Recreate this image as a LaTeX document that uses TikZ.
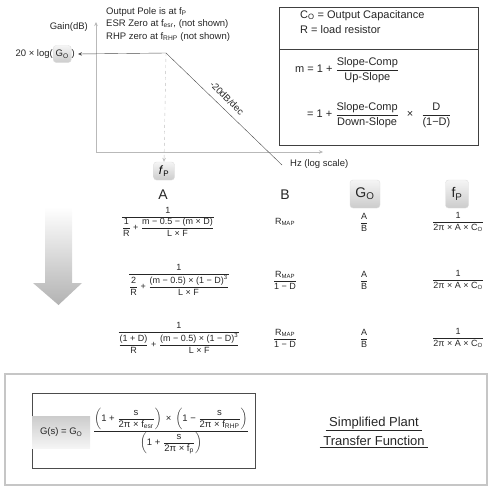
\documentclass[tikz,border=0pt]{standalone}
\usepackage{amsmath}
\usepackage{fontspec}
\setmainfont{Liberation Sans}
\usepackage{xcolor}
\usepackage{tikz}
\usetikzlibrary{arrows.meta,positioning}
\newcommand{\lsub}[1]{\textsubscript{#1}}
\newcommand{\lfrac}[2]{\ensuremath{\dfrac{\text{#1}}{\text{#2}}}}
\newcommand{\lpar}[2]{\left(\text{#1 }\lfrac{s}{2π × f\lsub{#2}}\right)}
\newcommand{\prow}[5]{%
  \node[eqn] (a#1) at (#3,#2) {#4};
  \node[eqn] (b#1) at (285,#2) {#5};
  \node[eqn] (g#1) at (364,#2) {\lfrac{A}{B}};
  \node[eqn] (f#1) at (458,#2) {\lfrac{1}{2π × A × C\lsub{O}}};}

\begin{document}
\begin{tikzpicture}[x=1pt,y=-1pt,
  lbl/.style={font=\fontsize{9.5}{12.5}\selectfont,text=black!85,inner sep=0pt},
  boxtxt/.style={font=\fontsize{11}{15}\selectfont,text=black!85,inner sep=0pt},
  hdr/.style={font=\fontsize{14}{16}\selectfont,text=black!85,inner sep=1pt},
  eqn/.style={font=\fontsize{9}{10.5}\selectfont,text=black!85,inner sep=0pt},
  tag/.style={rounded corners=3pt,top color=gray!8,bottom color=gray!40,draw=gray!25,inner sep=2pt},
  axis/.style={draw=gray!55,-{Stealth[length=4pt,width=3.5pt]}},
  tip/.style={-{Stealth[length=4pt,width=3.5pt]}}]
  \useasboundingbox (0,0) rectangle (498,490);
  % bode plot
  \coordinate (org) at (96,152);
  \coordinate (ytop) at (96,22);
  \coordinate (xend) at (323,152);
  \coordinate (knee) at (166,53);
  \coordinate (roll) at (282,165);
  \draw[axis] (org) -- (ytop);
  \draw[axis] (org) -- (xend);
  \node[lbl,anchor=east] (gain) at (88,27) {Gain(dB)};
  \node[lbl,anchor=east] (glog) at (53,54) {20 × log(};
  \node[tag,lbl,inner sep=2.5pt,minimum height=17pt,right=0pt of glog] (g0) {G\lsub{O}};
  \node[lbl,right=0pt of g0] (gpar) {)};
  \node[lbl,anchor=north west,align=left] (notes) at (106,7)
    {Output Pole is at f\lsub{P}\\ESR Zero at f\lsub{esr}, (not shown)\\RHP zero at f\lsub{RHP} (not shown)};
  \draw[black!70,tip] (roll) -- (knee) -- ([xshift=3pt]gpar.east);
  \node[tag,font=\fontsize{12}{14}\selectfont,minimum width=21pt,minimum height=18pt] (fp) at (164,171)
    {\textit{f}\lsub{P}};
  \draw[gray!50,dashed,tip] (knee) -- (fp.north);
  \node[lbl,rotate=-45] (slope) at (227,98) {-20dB/dec};
  \node[lbl,anchor=west] (hz) at (290,164) {Hz (log scale)};
  % definitions box
  \draw[black!75] (279,7) rectangle (478,145);
  \draw[black!75] (279,49) -- (478,49);
  \node[boxtxt,anchor=north west,align=left] (defs) at (300,10)
    {C\lsub{O} = Output Capacitance\\R = load resistor};
  \node[boxtxt,anchor=west] (mdef) at (295,70) {m = 1 + \lfrac{Slope-Comp}{Up-Slope}};
  \node[boxtxt,anchor=west] (mdown) at (307,115)
    {= 1 + \lfrac{Slope-Comp}{Down-Slope}\hspace{8pt}×\hspace{8pt}\lfrac{D}{(1−D)}};
  % table
  \node[hdr] (hA) at (163,195) {A};
  \node[hdr] (hB) at (285,195) {B};
  \node[hdr,tag,minimum width=30pt,minimum height=28pt] (hG) at (365,194) {G\lsub{O}};
  \node[hdr,tag,minimum width=23pt,minimum height=28pt] (hF) at (457,194) {f\lsub{P}};
  \prow{1}{222}{168}{\lfrac{1}{\lfrac{1}{R} + \lfrac{m − 0.5 − (m × D)}{L × F}}}{R\lsub{MAP}}
  \prow{2}{280}{179}{\lfrac{1}{\lfrac{2}{R} + \lfrac{(m − 0.5) × (1 − D)\textsuperscript{3}}{L × F}}}{\lfrac{R\lsub{MAP}}{1 − D}}
  \prow{3}{338}{179}{\lfrac{1}{\lfrac{(1 + D)}{R} + \lfrac{(m − 0.5) × (1 − D)\textsuperscript{3}}{L × F}}}{\lfrac{R\lsub{MAP}}{1 − D}}
  % big arrow
  \shade[top color=white,bottom color=gray!60]
    (45,207) -- (72,207) -- (72,283) -- (82,283) -- (58.5,305) -- (33,283) -- (45,283) -- cycle;
  % transfer function
  \draw[gray!45,line width=1.3pt] (5,374) rectangle (487,485);
  \draw[black!70] (32,393) rectangle (255,468);
  \node[eqn,font=\fontsize{9.5}{11}\selectfont,top color=gray!40,bottom color=gray!8,
    minimum width=58pt,minimum height=32pt,anchor=west] (gs) at (32,432) {G(s) = G\lsub{O}};
  \node[eqn,font=\fontsize{9.5}{11}\selectfont] (tf) at (171,431)
    {$\dfrac{\lpar{1 +}{esr}\text{ × }\lpar{1 −}{RHP}}{\lpar{1 +}{p}}$};
  \node[font=\fontsize{13}{15}\selectfont,text=black!85,inner sep=0pt] (spt) at (374,424)
    {\underline{\ Simplified Plant\ }};
  \node[font=\fontsize{13}{15}\selectfont,text=black!85,inner sep=0pt,below=4pt of spt] (tfn)
    {\underline{\ Transfer Function\ }};
\end{tikzpicture}
\end{document}
